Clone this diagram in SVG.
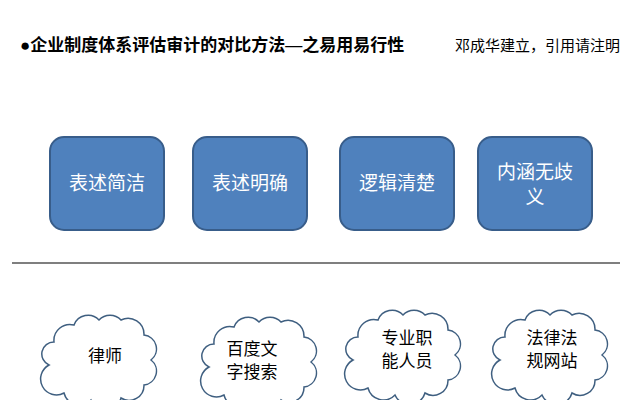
<svg xmlns="http://www.w3.org/2000/svg" width="637" height="400" viewBox="0 0 637 400">
<style>
.t{font-family:"Liberation Serif","Noto Sans CJK SC",serif;fill:#000}
.b{fill:#4f81bd;stroke:#385d8a;stroke-width:2}
.bt{font-family:"Noto Sans CJK SC",sans-serif;font-size:19px;fill:#fff;text-anchor:middle}
.c{fill:#fff;stroke:#3f5f80;stroke-width:1.5}
.ct{font-family:"Noto Sans CJK SC",serif;font-size:17px;fill:#000;text-anchor:middle}
</style>
<defs>
<path id="cloud" d="M -50,5 A 12 12 0 0 1 -45,-18 A 16 16 0 0 1 -25,-35 A 15 15 0 0 1 0,-40 A 15 15 0 0 1 22,-40 A 16 16 0 0 1 45,-25 A 14 14 0 0 1 52,0 A 14 14 0 0 1 45,25 A 15 15 0 0 1 22,38 A 16 16 0 0 1 -8,40 A 16 16 0 0 1 -35,33 A 14 14 0 0 1 -50,5 Z"/>
</defs>
<rect width="637" height="400" fill="#fff"/>
<text class="t" x="20" y="51" font-size="17" font-weight="bold">●企业制度体系评估审计的对比方法—之易用易行性</text>
<text class="t" x="620" y="51" font-size="15" text-anchor="end">邓成华建立，引用请注明</text>
<g id="n1"><rect class="b" x="50" y="137" width="114" height="93" rx="14"/><text class="bt" x="107" y="190">表述简洁</text></g>
<g id="n2"><rect class="b" x="193" y="137" width="114" height="93" rx="14"/><text class="bt" x="250" y="190">表述明确</text></g>
<g id="n3"><rect class="b" x="340" y="137" width="114" height="93" rx="14"/><text class="bt" x="397" y="190">逻辑清楚</text></g>
<g id="n4"><rect class="b" x="478" y="137" width="114" height="93" rx="14"/><text class="bt" x="535" y="179">内涵无歧</text><text class="bt" x="535" y="204">义</text></g>
<g id="connectors"><line x1="12" y1="263" x2="620" y2="263" stroke="#000" stroke-width="1.2"/></g>
<g id="c1"><use href="#cloud" class="c" transform="translate(99,360)"/><text class="ct" x="105" y="362">律师</text></g>
<g id="c2"><use href="#cloud" class="c" transform="translate(259,362)"/><text class="ct" x="252" y="355">百度文</text><text class="ct" x="252" y="378">字搜索</text></g>
<g id="c3"><use href="#cloud" class="c" transform="translate(403,355)"/><text class="ct" x="407" y="344">专业职</text><text class="ct" x="407" y="367">能人员</text></g>
<g id="c4"><use href="#cloud" class="c" transform="translate(550,355)"/><text class="ct" x="552" y="344">法律法</text><text class="ct" x="552" y="367">规网站</text></g>
</svg>
